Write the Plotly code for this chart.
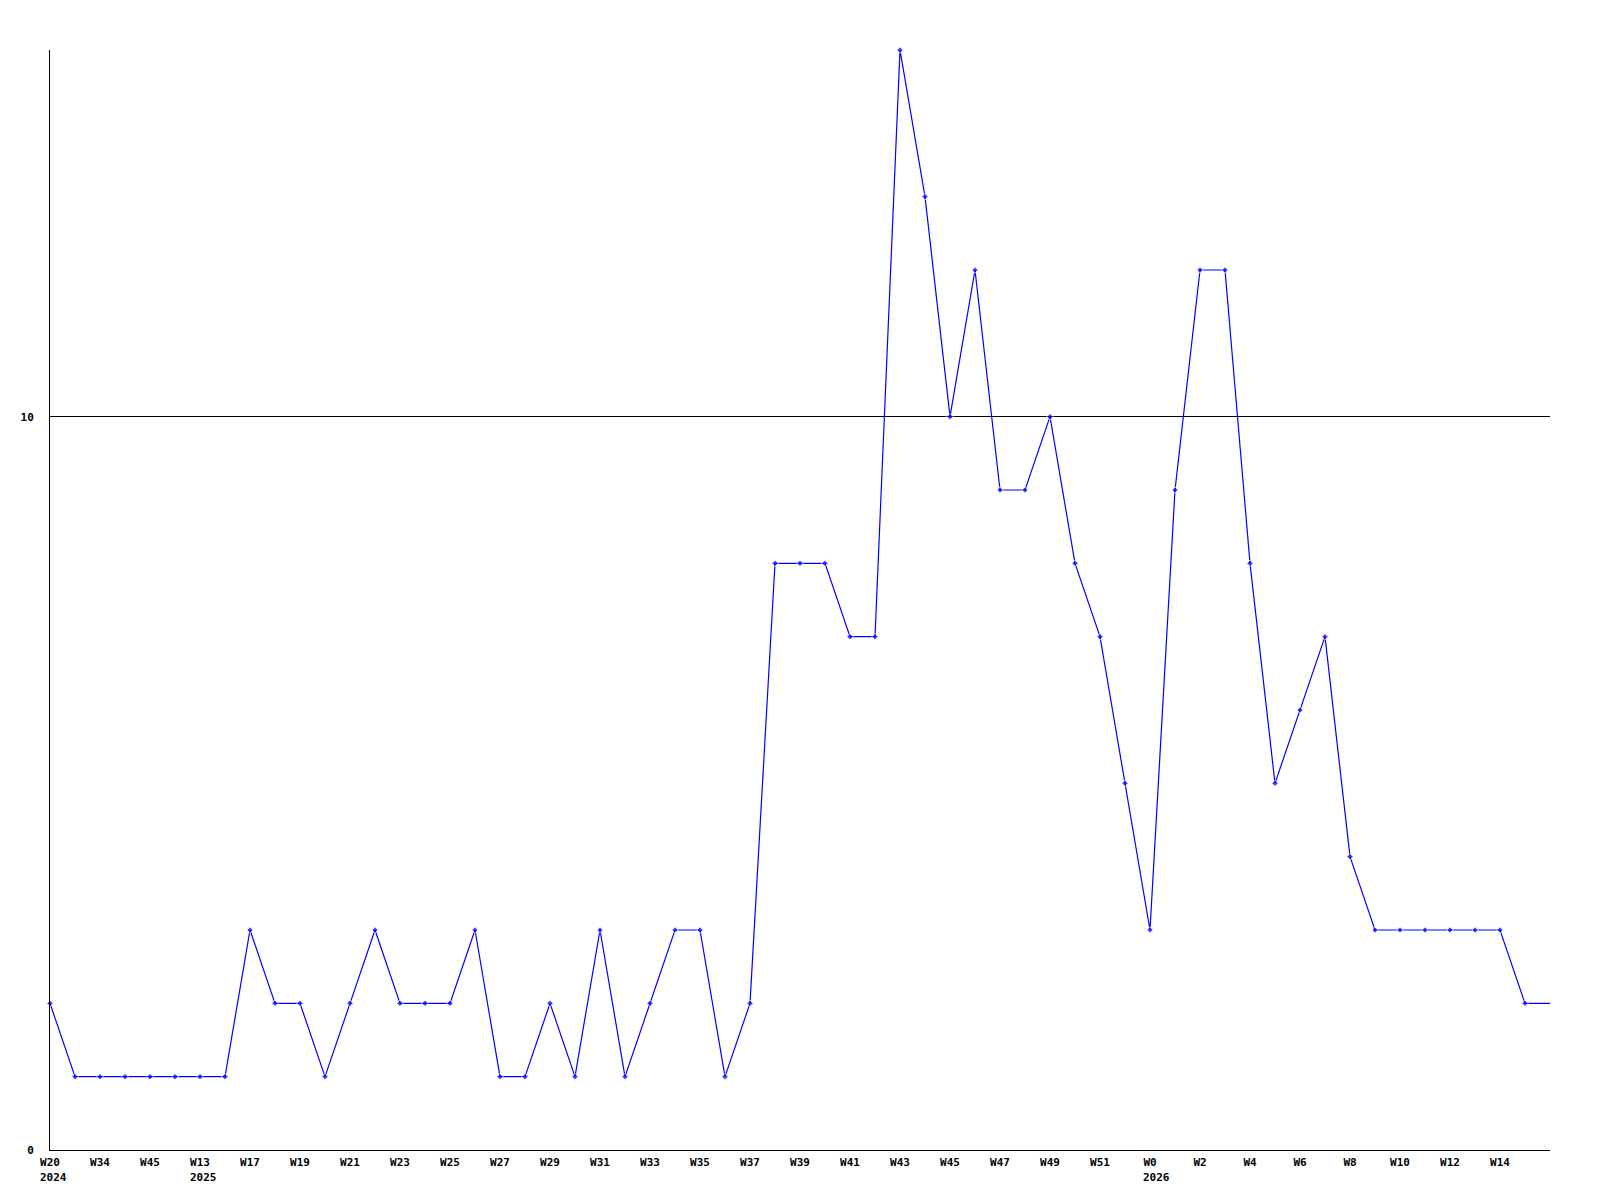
import plotly.graph_objects as go

# Tick labels (every second point)
week_labels = ["W20", "W34", "W45", "W13", "W17", "W19", "W21", "W23", "W25", "W27",
               "W29", "W31", "W33", "W35", "W37", "W39", "W41", "W43", "W45", "W47",
               "W49", "W51", "W0", "W2", "W4", "W6", "W8", "W10", "W12", "W14"]
year_labels = {0: "2024", 3: "2025", 22: "2026"}

# Series values (60 weekly points + the line running on to the axis end)
values = [2, 1, 1, 1, 1, 1, 1, 1, 3, 2,
          2, 1, 2, 3, 2, 2, 2, 3, 1, 1,
          2, 1, 3, 1, 2, 3, 3, 1, 2, 8,
          8, 8, 7, 7, 15, 13, 10, 12, 9, 9,
          10, 8, 7, 5, 3, 9, 12, 12, 8, 5,
          6, 7, 4, 3, 3, 3, 3, 3, 3, 2,
          2]

x = list(range(len(values)))
marker_sizes = [5] * (len(values) - 1) + [0]

tickvals = [2 * i for i in range(len(week_labels))]

FS = 11
CHAR_W = 0.602 * FS
tfont = dict(family="DejaVu Sans Mono", size=FS, color="black", weight="bold")

fig = go.Figure()
fig.add_trace(go.Scatter(
    x=x, y=values, mode="lines+markers",
    line=dict(color="#0000ff", width=1.2),
    marker=dict(color="#0000ff", size=marker_sizes, symbol="diamond"),
    cliponaxis=False, showlegend=False, hoverinfo="x+y",
))

# year labels, left-aligned under their week label
for i, yr in year_labels.items():
    fig.add_annotation(
        x=tickvals[i], xref="x", y=0, yref="paper",
        text=yr, showarrow=False, font=tfont,
        xanchor="left", yanchor="middle",
        xshift=-len(week_labels[i]) * CHAR_W / 2, yshift=-27,
        borderpad=0, borderwidth=0,
    )

fig.update_layout(
    width=1600, height=1200,
    margin=dict(l=42, r=58, t=42, b=58, autoexpand=False),
    paper_bgcolor="white", plot_bgcolor="white",
    font=dict(family="DejaVu Sans Mono", size=FS, color="black"),
    xaxis=dict(
        range=[0, 60], tickvals=tickvals, ticktext=week_labels,
        showgrid=False, zeroline=False, showline=True, linecolor="black", linewidth=1,
        ticks="", tickfont=tfont, tickangle=0, ticklabelstandoff=2,
    ),
    yaxis=dict(
        range=[0, 15], tickvals=[0, 10], ticktext=["0", "10"],
        showgrid=True, gridcolor="black", gridwidth=1,
        zeroline=False, showline=True, linecolor="black", linewidth=1,
        ticks="", ticklabelstandoff=13, tickfont=tfont,
    ),
)

fig.write_html("out.html")
